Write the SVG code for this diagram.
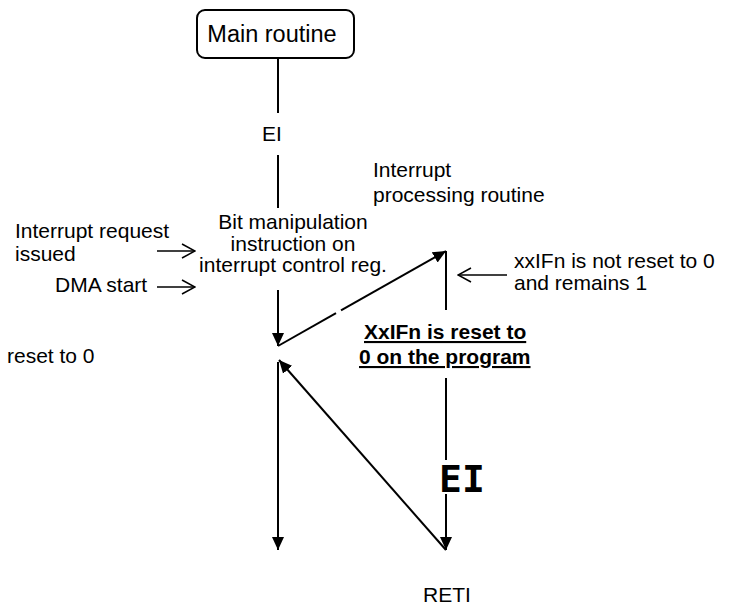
<svg xmlns="http://www.w3.org/2000/svg" width="735" height="605" viewBox="0 0 735 605">
<style>
text{font-family:"Liberation Sans",Arial,sans-serif;font-size:21px;fill:#000}
.b{font-weight:bold;text-decoration:underline}
.big{font-family:"DejaVu Sans Mono",monospace;font-weight:bold;font-size:38px}
.ln{stroke:#000;stroke-width:2;fill:none}
.th{stroke:#000;stroke-width:1.5;fill:none}
</style>
<defs>
<marker id="fa" markerUnits="userSpaceOnUse" markerWidth="14" markerHeight="14" viewBox="0 0 14 14" refX="13" refY="7" orient="auto">
<path d="M0,1 L13,7 L0,13 Z" fill="#000"/>
</marker>
<marker id="oa" markerUnits="userSpaceOnUse" markerWidth="16" markerHeight="16" viewBox="0 0 16 16" refX="15" refY="8" orient="auto">
<path d="M2,1 L15,8 L2,15" fill="none" stroke="#000" stroke-width="1.5"/>
</marker>
</defs>
<g id="main-routine">
<rect x="197" y="10" width="157" height="48" rx="8" fill="#fff" stroke="#000" stroke-width="2"/>
<text x="272" y="42" text-anchor="middle" style="font-size:23.5px">Main routine</text>
</g>
<g id="connectors">
<line class="ln" x1="278" y1="58" x2="278" y2="113"/>
<line class="ln" x1="278" y1="155" x2="278" y2="208"/>
<line class="ln" x1="278" y1="290" x2="278" y2="346" marker-end="url(#fa)"/>
<line class="ln" x1="278" y1="346" x2="336" y2="313.2"/>
<line class="ln" x1="341" y1="310.4" x2="446" y2="251" marker-end="url(#fa)"/>
<line class="ln" x1="446" y1="251" x2="446" y2="310"/>
<line class="ln" x1="446" y1="378" x2="446" y2="460"/>
<line class="ln" x1="446" y1="494" x2="446" y2="550" marker-end="url(#fa)"/>
<line class="ln" x1="446" y1="550" x2="279" y2="360" marker-end="url(#fa)"/>
<line class="ln" x1="278" y1="362" x2="278" y2="550" marker-end="url(#fa)"/>
<line class="th" x1="157" y1="251" x2="195" y2="251" marker-end="url(#oa)"/>
<line class="th" x1="157" y1="287" x2="195" y2="287" marker-end="url(#oa)"/>
<line class="th" x1="507" y1="275" x2="458" y2="275" marker-end="url(#oa)"/>
</g>
<g id="ei-label"><text x="272" y="141" text-anchor="middle">EI</text></g>
<g id="bit-manipulation">
<text x="293" y="229" text-anchor="middle">Bit manipulation</text>
<text x="293" y="251" text-anchor="middle">instruction on</text>
<text x="293" y="272" text-anchor="middle">interrupt control reg.</text>
</g>
<g id="interrupt-request">
<text x="15" y="238">Interrupt request</text>
<text x="15" y="261">issued</text>
</g>
<g id="dma-start"><text x="55" y="292">DMA start</text></g>
<g id="interrupt-processing">
<text x="373" y="177">Interrupt</text>
<text x="373" y="202">processing routine</text>
</g>
<g id="not-reset">
<text x="514" y="268">xxIFn is not reset to 0</text>
<text x="514" y="290">and remains 1</text>
</g>
<g id="reset-program">
<text class="b" x="364" y="339">XxIFn is reset to</text>
<text class="b" x="359" y="364">0 on the program</text>
</g>
<g id="reset-to-0"><text x="7" y="363">reset to 0</text></g>
<g id="ei-big"><text class="big" x="439" y="492">EI</text></g>
<g id="reti"><text x="423" y="602">RETI</text></g>
</svg>
